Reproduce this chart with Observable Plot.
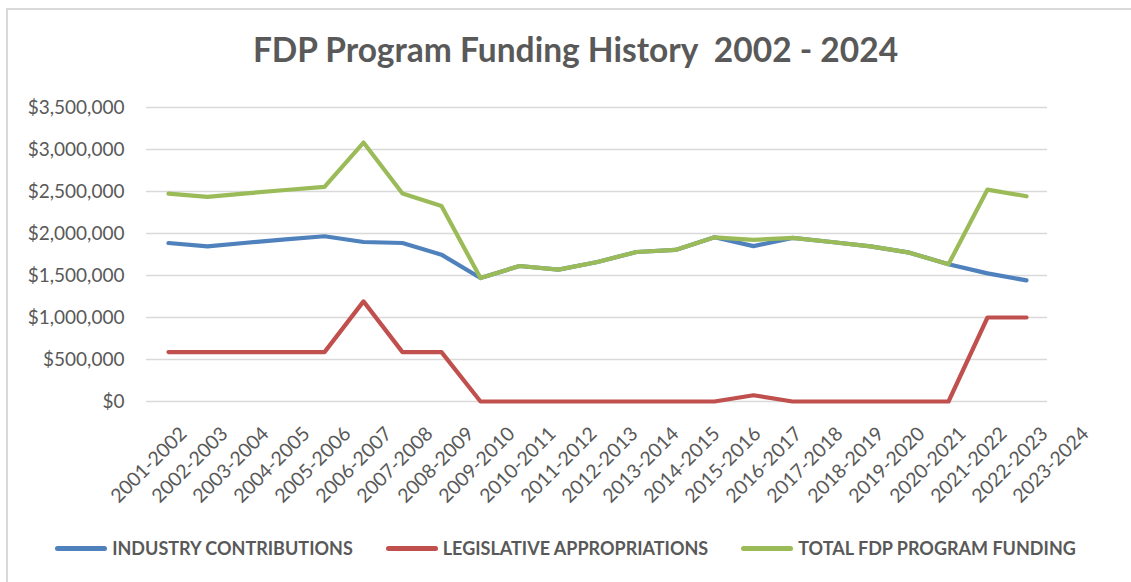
<!DOCTYPE html>
<html>
<head>
<meta charset="utf-8">
<script src="https://cdn.jsdelivr.net/npm/d3@7"></script>
<script src="https://cdn.jsdelivr.net/npm/@observablehq/plot@0.6"></script>
<style>
  html, body { margin: 0; padding: 0; background: #fff; }
  body { width: 1131px; height: 582px; position: relative; overflow: hidden; font-family: Lato, "Open Sans", sans-serif; }
  #frame { position: absolute; left: 6px; top: 8px; width: 1200px; height: 700px; border-left: 2px solid #d9d9d9; border-top: 2px solid #d9d9d9; box-sizing: border-box; z-index: 5; pointer-events: none; }
  #title { position: absolute; left: 10px; width: 1131px; top: 29px; text-align: center; font-size: 33.5px; font-weight: bold; color: #595959; white-space: pre; }
  #chart, #labels { position: absolute; left: 0; top: 90px; }
  #labels { pointer-events: none; }
  #legend { position: absolute; left: 0; top: 537px; width: 1131px; display: flex; justify-content: center; gap: 33px; font-size: 18px; font-weight: bold; color: #595959; }
  .item { display: flex; align-items: center; }
  .sw { width: 52px; height: 5px; border-radius: 3px; margin-right: 5px; }
</style>
</head>
<body>
<div id="frame"></div>
<div id="title">FDP Program Funding History  2002 - 2024</div>
<div id="chart"></div>
<div id="labels"></div>
<div id="legend"></div>
<script>
const years = ["2001-2002","2002-2003","2003-2004","2004-2005","2005-2006","2006-2007","2007-2008","2008-2009","2009-2010","2010-2011","2011-2012","2012-2013","2013-2014","2014-2015","2015-2016","2016-2017","2017-2018","2018-2019","2019-2020","2020-2021","2021-2022","2022-2023","2023-2024"];
const industry = [1887000,1847000,1890000,1930000,1967000,1899000,1887000,1748000,1470000,1613000,1570000,1661000,1780000,1804000,1955000,1850000,1947000,1899000,1847000,1772000,1633000,1525000,1442000];
const legislative = [588000,588000,588000,588000,588000,1192000,588000,588000,0,0,0,0,0,0,0,75000,0,0,0,0,0,1000000,1000000];
const total = [2475000,2435000,2478000,2518000,2555000,3083000,2475000,2328000,1470000,1613000,1570000,1661000,1780000,1804000,1955000,1925000,1947000,1899000,1847000,1772000,1633000,2523000,2443000];
const seriesNames = ["INDUSTRY CONTRIBUTIONS","LEGISLATIVE APPROPRIATIONS","TOTAL FDP PROGRAM FUNDING"];
const seriesColors = ["#4F81BD","#C0504D","#9BBB59"];
const yTicks = [0,500000,1000000,1500000,2000000,2500000,3000000,3500000];

const seriesValues = [industry, legislative, total];
const data = [];
seriesValues.forEach((vals, si) => vals.forEach((v, i) => data.push({year: years[i], value: v, series: seriesNames[si]})));

const fmt = d => "$" + d3.format(",")(d);
const font = "Lato, 'Open Sans', sans-serif";

const chart = Plot.plot({
  width: 1131,
  height: 420,
  marginLeft: 146,
  marginRight: 84,
  marginTop: 17,
  marginBottom: 109,
  style: {fontFamily: font, color: "#595959", background: "transparent"},
  x: {type: "point", domain: years, padding: 0.5, label: null, axis: null},
  y: {domain: [0, 3500000], label: null},
  color: {domain: seriesNames, range: seriesColors},
  marks: [
    Plot.ruleY(yTicks, {stroke: "#d9d9d9", strokeWidth: 1.3}),
    Plot.axisY({ticks: yTicks, tickFormat: fmt, tickSize: 0, tickPadding: 22, fontSize: 19, label: null, fill: "#595959"}),
    Plot.line(data, {x: "year", y: "value", z: "series", stroke: "series", strokeWidth: 4.2, strokeLinejoin: "round", strokeLinecap: "round"})
  ]
});
document.getElementById("chart").appendChild(chart);

// category labels (Excel spreads its rotated labels slightly wider than the plotted points)
const labels = Plot.plot({
  width: 1131,
  height: 420,
  marginLeft: 143,
  marginRight: 26,
  marginTop: 17,
  marginBottom: 109,
  style: {fontFamily: font, color: "#595959", background: "transparent"},
  x: {type: "point", domain: years, padding: 0.5, label: null},
  marks: [
    Plot.axisX({tickSize: 0, tickPadding: 29, dx: 10, tickRotate: -45, fontSize: 19.5, label: null, fill: "#595959"})
  ]
});
document.getElementById("labels").appendChild(labels);

const legend = document.getElementById("legend");
seriesNames.forEach((n, i) => {
  const it = document.createElement("div");
  it.className = "item";
  const sw = document.createElement("div");
  sw.className = "sw";
  sw.style.background = seriesColors[i];
  const t = document.createElement("span");
  t.textContent = n;
  it.appendChild(sw); it.appendChild(t);
  legend.appendChild(it);
});
</script>
</body>
</html>
